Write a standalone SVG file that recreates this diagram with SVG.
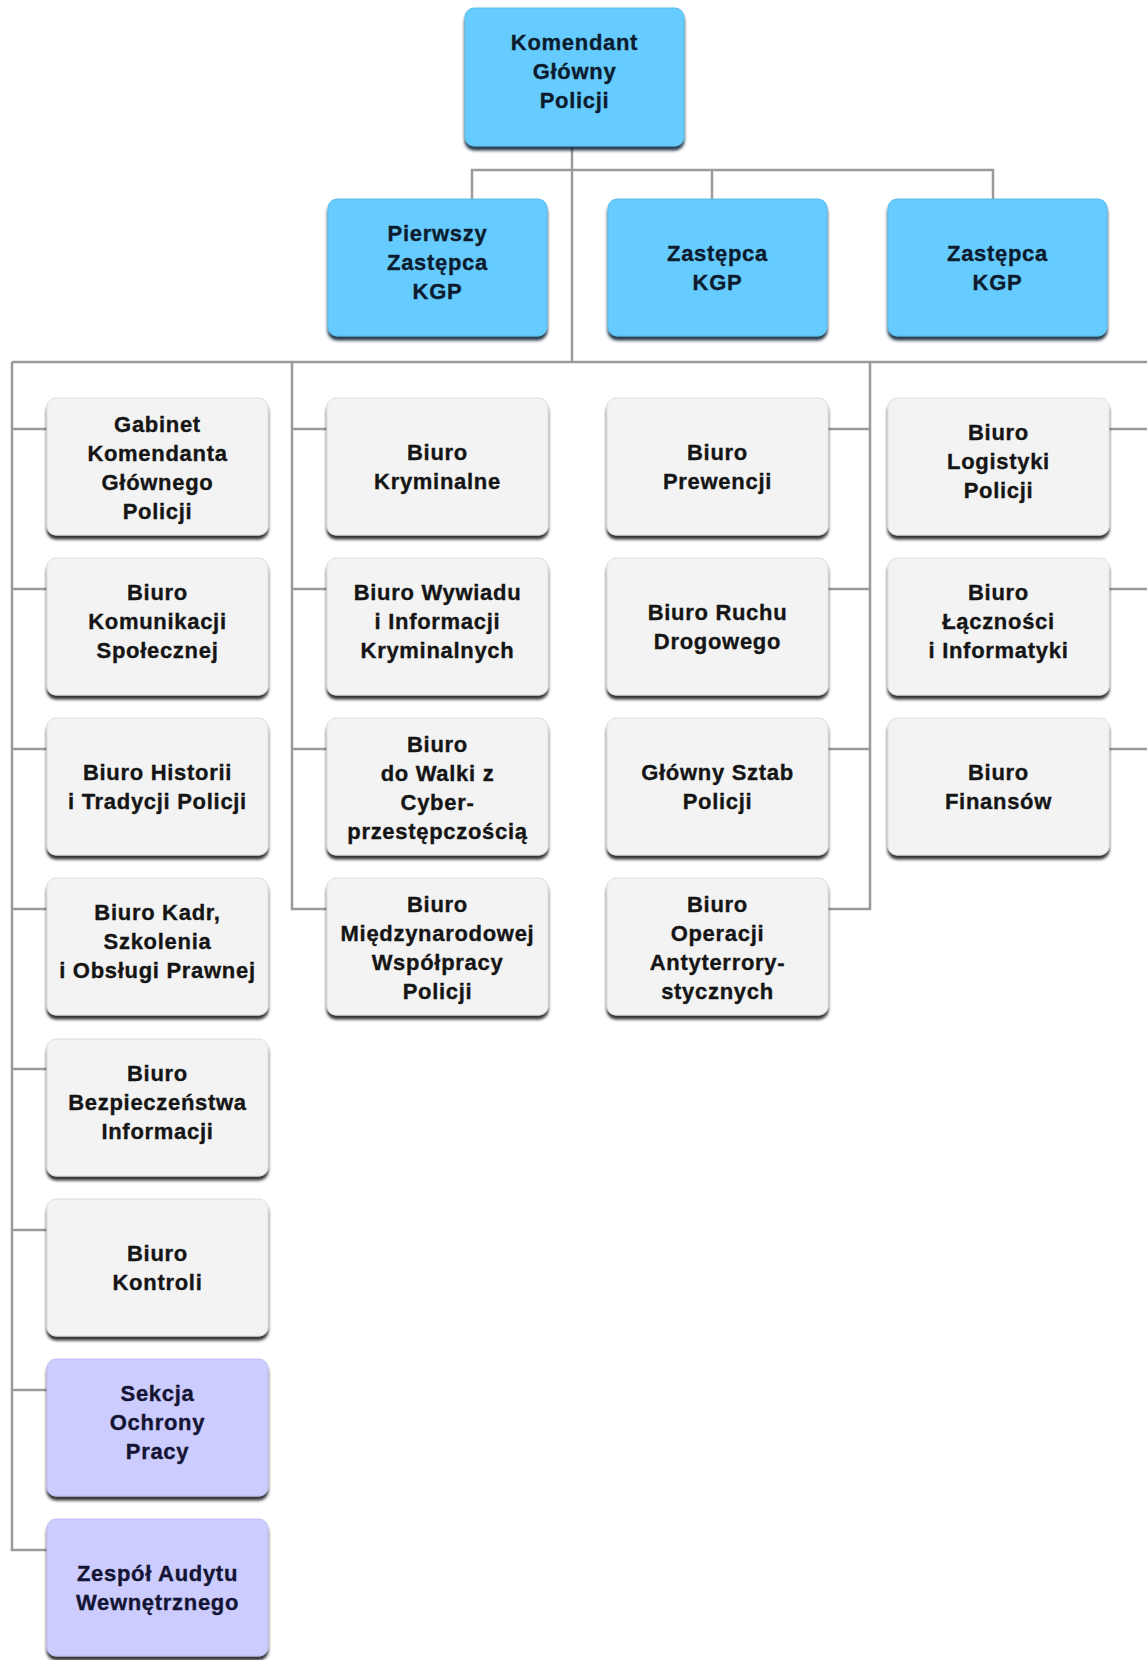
<svg xmlns="http://www.w3.org/2000/svg" width="1147" height="1660" viewBox="0 0 1147 1660">
<style>
.box{stroke-width:1}
.blue{fill:#66CCFF;stroke:#5bbbe8}
.gray{fill:#F3F3F3;stroke:#dedede}
.purple{fill:#CCCCFF;stroke:#bdbdf0}
.t{font-family:"Liberation Sans",Arial,sans-serif;font-weight:bold;font-size:22px;letter-spacing:0.7px;text-anchor:middle;fill:#151515;stroke:#151515;stroke-width:0.35px}
.tb{fill:#0c1c2e;stroke:#0c1c2e}
.tp{fill:#141433;stroke:#141433}
.c{fill:none;stroke:#9a9a9a;stroke-width:2.5}
</style>
<defs>
<filter id="sh" x="-10%" y="-10%" width="120%" height="130%">
<feDropShadow dx="0" dy="4" stdDeviation="1.7" flood-color="#000" flood-opacity="0.8"/>
</filter>
<filter id="shb" x="-10%" y="-10%" width="120%" height="130%">
<feDropShadow dx="0" dy="4" stdDeviation="1.7" flood-color="#0a2238" flood-opacity="0.9"/>
</filter>
</defs>
<rect width="1147" height="1660" fill="#fff"/>
<g id="connectors">
<path class="c" d="M572 146 V362"/>
<path class="c" d="M472 199 V170 H993 V199"/>
<path class="c" d="M712 170 V199"/>
<path class="c" d="M12 362 H1149"/>
<path class="c" d="M12 362 V1550 H47"/>
<path class="c" d="M12 429 H47 M12 589 H47 M12 749 H47 M12 909 H47 M12 1069 H47 M12 1230 H47 M12 1390 H47"/>
<path class="c" d="M292 362 V909 H327 M292 429 H327 M292 589 H327 M292 749 H327"/>
<path class="c" d="M870 362 V909 H828 M870 429 H828 M870 589 H828 M870 749 H828"/>
<path class="c" d="M1149 362 V749 H1109 M1149 429 H1109 M1149 589 H1109"/>
</g>
<g id="kgp"><rect class="box blue" filter="url(#shb)" x="465" y="8" width="219" height="138" rx="9"/><text class="t tb"><tspan x="574.5" y="50">Komendant</tspan><tspan x="574.5" y="79">Główny</tspan><tspan x="574.5" y="108">Policji</tspan></text></g>
<g id="z1"><rect class="box blue" filter="url(#shb)" x="328" y="199" width="219" height="137" rx="9"/><text class="t tb"><tspan x="437.5" y="241">Pierwszy</tspan><tspan x="437.5" y="270">Zastępca</tspan><tspan x="437.5" y="299">KGP</tspan></text></g>
<g id="z2"><rect class="box blue" filter="url(#shb)" x="608" y="199" width="219" height="137" rx="9"/><text class="t tb"><tspan x="717.5" y="261">Zastępca</tspan><tspan x="717.5" y="290">KGP</tspan></text></g>
<g id="z3"><rect class="box blue" filter="url(#shb)" x="888" y="199" width="219" height="137" rx="9"/><text class="t tb"><tspan x="997.5" y="261">Zastępca</tspan><tspan x="997.5" y="290">KGP</tspan></text></g>

<g id="c1r1"><rect class="box gray" filter="url(#sh)" x="47" y="398" width="221" height="137" rx="9"/><text class="t"><tspan x="157.5" y="432">Gabinet</tspan><tspan x="157.5" y="461">Komendanta</tspan><tspan x="157.5" y="490">Głównego</tspan><tspan x="157.5" y="519">Policji</tspan></text></g>
<g id="c1r2"><rect class="box gray" filter="url(#sh)" x="47" y="558" width="221" height="137" rx="9"/><text class="t"><tspan x="157.5" y="600">Biuro</tspan><tspan x="157.5" y="629">Komunikacji</tspan><tspan x="157.5" y="658">Społecznej</tspan></text></g>
<g id="c1r3"><rect class="box gray" filter="url(#sh)" x="47" y="718" width="221" height="137" rx="9"/><text class="t"><tspan x="157.5" y="780">Biuro Historii</tspan><tspan x="157.5" y="809">i Tradycji Policji</tspan></text></g>
<g id="c1r4"><rect class="box gray" filter="url(#sh)" x="47" y="878" width="221" height="137" rx="9"/><text class="t"><tspan x="157.5" y="920">Biuro Kadr,</tspan><tspan x="157.5" y="949">Szkolenia</tspan><tspan x="157.5" y="978">i Obsługi Prawnej</tspan></text></g>
<g id="c1r5"><rect class="box gray" filter="url(#sh)" x="47" y="1039" width="221" height="137" rx="9"/><text class="t"><tspan x="157.5" y="1081">Biuro</tspan><tspan x="157.5" y="1110">Bezpieczeństwa</tspan><tspan x="157.5" y="1139">Informacji</tspan></text></g>
<g id="c1r6"><rect class="box gray" filter="url(#sh)" x="47" y="1199" width="221" height="137" rx="9"/><text class="t"><tspan x="157.5" y="1261">Biuro</tspan><tspan x="157.5" y="1290">Kontroli</tspan></text></g>
<g id="c1r7"><rect class="box purple" filter="url(#sh)" x="47" y="1359" width="221" height="137" rx="9"/><text class="t tp"><tspan x="157.5" y="1401">Sekcja</tspan><tspan x="157.5" y="1430">Ochrony</tspan><tspan x="157.5" y="1459">Pracy</tspan></text></g>
<g id="c1r8"><rect class="box purple" filter="url(#sh)" x="47" y="1519" width="221" height="137" rx="9"/><text class="t tp"><tspan x="157.5" y="1581">Zespół Audytu</tspan><tspan x="157.5" y="1610">Wewnętrznego</tspan></text></g>

<g id="c2r1"><rect class="box gray" filter="url(#sh)" x="327" y="398" width="221" height="137" rx="9"/><text class="t"><tspan x="437.5" y="460">Biuro</tspan><tspan x="437.5" y="489">Kryminalne</tspan></text></g>
<g id="c2r2"><rect class="box gray" filter="url(#sh)" x="327" y="558" width="221" height="137" rx="9"/><text class="t"><tspan x="437.5" y="600">Biuro Wywiadu</tspan><tspan x="437.5" y="629">i Informacji</tspan><tspan x="437.5" y="658">Kryminalnych</tspan></text></g>
<g id="c2r3"><rect class="box gray" filter="url(#sh)" x="327" y="718" width="221" height="137" rx="9"/><text class="t"><tspan x="437.5" y="752">Biuro</tspan><tspan x="437.5" y="781">do Walki z</tspan><tspan x="437.5" y="810">Cyber-</tspan><tspan x="437.5" y="839">przestępczością</tspan></text></g>
<g id="c2r4"><rect class="box gray" filter="url(#sh)" x="327" y="878" width="221" height="137" rx="9"/><text class="t"><tspan x="437.5" y="912">Biuro</tspan><tspan x="437.5" y="941">Międzynarodowej</tspan><tspan x="437.5" y="970">Współpracy</tspan><tspan x="437.5" y="999">Policji</tspan></text></g>

<g id="c3r1"><rect class="box gray" filter="url(#sh)" x="607" y="398" width="221" height="137" rx="9"/><text class="t"><tspan x="717.5" y="460">Biuro</tspan><tspan x="717.5" y="489">Prewencji</tspan></text></g>
<g id="c3r2"><rect class="box gray" filter="url(#sh)" x="607" y="558" width="221" height="137" rx="9"/><text class="t"><tspan x="717.5" y="620">Biuro Ruchu</tspan><tspan x="717.5" y="649">Drogowego</tspan></text></g>
<g id="c3r3"><rect class="box gray" filter="url(#sh)" x="607" y="718" width="221" height="137" rx="9"/><text class="t"><tspan x="717.5" y="780">Główny Sztab</tspan><tspan x="717.5" y="809">Policji</tspan></text></g>
<g id="c3r4"><rect class="box gray" filter="url(#sh)" x="607" y="878" width="221" height="137" rx="9"/><text class="t"><tspan x="717.5" y="912">Biuro</tspan><tspan x="717.5" y="941">Operacji</tspan><tspan x="717.5" y="970">Antyterrory-</tspan><tspan x="717.5" y="999">stycznych</tspan></text></g>

<g id="c4r1"><rect class="box gray" filter="url(#sh)" x="888" y="398" width="221" height="137" rx="9"/><text class="t"><tspan x="998.5" y="440">Biuro</tspan><tspan x="998.5" y="469">Logistyki</tspan><tspan x="998.5" y="498">Policji</tspan></text></g>
<g id="c4r2"><rect class="box gray" filter="url(#sh)" x="888" y="558" width="221" height="137" rx="9"/><text class="t"><tspan x="998.5" y="600">Biuro</tspan><tspan x="998.5" y="629">Łączności</tspan><tspan x="998.5" y="658">i Informatyki</tspan></text></g>
<g id="c4r3"><rect class="box gray" filter="url(#sh)" x="888" y="718" width="221" height="137" rx="9"/><text class="t"><tspan x="998.5" y="780">Biuro</tspan><tspan x="998.5" y="809">Finansów</tspan></text></g>
</svg>
